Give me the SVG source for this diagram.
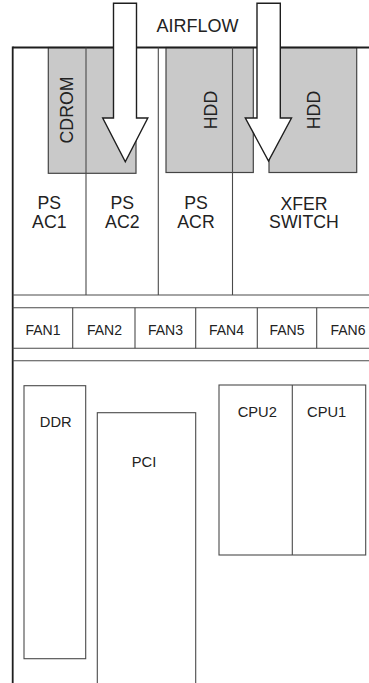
<svg xmlns="http://www.w3.org/2000/svg" width="369" height="683" viewBox="0 0 369 683">
<style>
.frame{stroke:#1e1e1e;stroke-width:1.8;fill:none}
.ln{stroke:#4a4a4a;stroke-width:1.1;fill:none}
.box{stroke:#4a4a4a;stroke-width:1.1;fill:#fff}
.gray{fill:#c9c9c9;stroke:#444;stroke-width:1.2}
.arrow{fill:#fff;stroke:#1e1e1e;stroke-width:1.4;stroke-linejoin:miter}
text{font-family:"Liberation Sans",Arial,Helvetica,sans-serif;fill:#222;text-anchor:middle}
.big{font-size:17.7px}
.sm{font-size:14px}
.md{font-size:14.7px}
</style>
<rect width="369" height="683" fill="#fff"/>
<g id="drives">
<rect id="cdrom-bay" class="gray" x="48.3" y="47.5" width="87.7" height="125.8"/>
<rect id="hdd1-bay" class="gray" x="166" y="47.5" width="87.3" height="125"/>
<rect id="hdd2-bay" class="gray" x="269" y="47.5" width="87.7" height="125"/>
</g>
<g id="chassis">
<line class="frame" x1="12.7" y1="47.5" x2="369" y2="47.5"/>
<line class="frame" x1="12.7" y1="46.6" x2="12.7" y2="683"/>
<line class="ln" x1="86" y1="47.5" x2="86" y2="295"/>
<line class="ln" x1="158.3" y1="47.5" x2="158.3" y2="295"/>
<line class="ln" x1="232.5" y1="47.5" x2="232.5" y2="295"/>
<line class="ln" x1="12.7" y1="295" x2="369" y2="295"/>
<line class="ln" x1="12.7" y1="307.7" x2="369" y2="307.7"/>
<line class="ln" x1="12.7" y1="348.3" x2="369" y2="348.3"/>
<line class="ln" x1="12.7" y1="360.7" x2="369" y2="360.7"/>
</g>
<g id="fans">
<line class="ln" x1="72.7" y1="307.7" x2="72.7" y2="348.3"/>
<line class="ln" x1="135" y1="307.7" x2="135" y2="348.3"/>
<line class="ln" x1="195.7" y1="307.7" x2="195.7" y2="348.3"/>
<line class="ln" x1="257.3" y1="307.7" x2="257.3" y2="348.3"/>
<line class="ln" x1="316.7" y1="307.7" x2="316.7" y2="348.3"/>
<text class="sm" x="43" y="335">FAN1</text>
<text class="sm" x="104.5" y="335">FAN2</text>
<text class="sm" x="165.5" y="335">FAN3</text>
<text class="sm" x="226.5" y="335">FAN4</text>
<text class="sm" x="287" y="335">FAN5</text>
<text class="sm" x="348" y="335">FAN6</text>
</g>
<g id="ddr">
<rect class="box" x="24" y="385.7" width="61.7" height="273"/>
<text class="md" x="55.7" y="426.7">DDR</text>
</g>
<g id="pci">
<rect class="box" x="97.3" y="412.7" width="98.4" height="290"/>
<text class="md" x="144" y="466.7">PCI</text>
</g>
<g id="cpu">
<rect class="box" x="219" y="385" width="146.7" height="170"/>
<line class="ln" x1="292.3" y1="385" x2="292.3" y2="555"/>
<text class="md" x="257.3" y="416.7">CPU2</text>
<text class="md" x="326.7" y="416.7">CPU1</text>
</g>
<g id="ps-labels">
<text class="big" x="49.3" y="209.3">PS</text>
<text class="big" x="49.3" y="228.3">AC1</text>
<text class="big" x="122.3" y="209.3">PS</text>
<text class="big" x="122.3" y="228.3">AC2</text>
<text class="big" x="196" y="209.3">PS</text>
<text class="big" x="196" y="228.3">ACR</text>
<text class="big" x="304" y="210">XFER</text>
<text class="big" x="304" y="228.3">SWITCH</text>
</g>
<g id="airflow">
<polygon class="arrow" points="113.5,3.3 136.5,3.3 136.5,118 147.8,118 125.3,161.7 102.7,118 113.5,118"/>
<polygon class="arrow" points="257,3.3 280.3,3.3 280.3,118 291.5,118 268.5,161 245.3,118 257,118"/>
<text class="big" x="197.5" y="32" style="font-size:18px">AIRFLOW</text>
</g>
<g id="drive-labels">
<text class="big" transform="translate(67,110) rotate(-90)" x="0" y="6.3">CDROM</text>
<text class="big" transform="translate(210.7,110) rotate(-90)" x="0" y="6.3">HDD</text>
<text class="big" transform="translate(314,110) rotate(-90)" x="0" y="6.3">HDD</text>
</g>
</svg>
